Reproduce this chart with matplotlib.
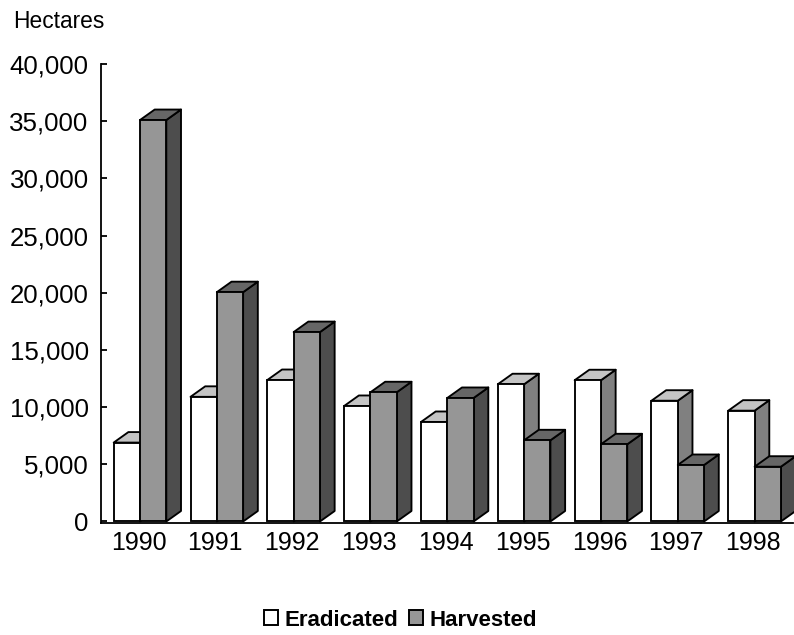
import matplotlib
matplotlib.use("Agg")
import matplotlib.pyplot as plt
from matplotlib.patches import Polygon, Patch

years = ["1990", "1991", "1992", "1993", "1994", "1995", "1996", "1997", "1998"]
eradicated = [6900, 10900, 12370, 10100, 8700, 12000, 12350, 10560, 9690]
harvested = [35100, 20050, 16560, 11300, 10800, 7100, 6750, 4940, 4790]

W, H = 794, 635
plt.rcParams["font.family"] = ["Liberation Sans", "DejaVu Sans"]
fig = plt.figure(figsize=(W / 100, H / 100), dpi=100)
ax = fig.add_axes([100.5 / W, 1 - 522.7 / H, (793 - 100.5) / W, (522.7 - 64) / H])

ax.set_xlim(-0.514, 8.50)
ax.set_ylim(-105, 40000)

bw = 26.3 / 76.8
dx = 14.7 / 76.8
dy = 918
lw = 1.35


def box(x0, v, front, top, side):
    x1 = x0 + bw
    ax.add_patch(Polygon([(x1, 0), (x1 + dx, dy), (x1 + dx, v + dy), (x1, v)],
                         facecolor=side, edgecolor="black", lw=lw, joinstyle="round", clip_on=False))
    ax.add_patch(Polygon([(x0, v), (x0 + dx, v + dy), (x1 + dx, v + dy), (x1, v)],
                         facecolor=top, edgecolor="black", lw=lw, joinstyle="round", clip_on=False))
    ax.bar(x0, v, width=bw, align="edge", color=front, edgecolor="black", linewidth=lw, clip_on=False)


for i in range(len(years)):
    box(i - bw, eradicated[i], "#ffffff", "#c4c4c4", "#808080")
    box(i, harvested[i], "#969696", "#666666", "#4d4d4d")

for s in ("top", "right"):
    ax.spines[s].set_visible(False)
for s in ("left", "bottom"):
    ax.spines[s].set_linewidth(1.3)

ax.set_yticks(range(0, 40001, 5000))
ax.set_yticklabels([f"{v:,}" for v in range(0, 40001, 5000)], fontsize=18.6)
ax.tick_params(axis="y", direction="in", length=4.5, width=1.3, pad=8.5)
ax.set_xticks([i - 0.02 for i in range(len(years))])
ax.set_xticklabels(years, fontsize=18)
ax.tick_params(axis="x", length=0, pad=6)

fig.text(13 / W, 1 - 22 / H, "Hectares", fontsize=16.4, va="center", ha="left")

handles = [Patch(facecolor="#ffffff", edgecolor="black", lw=1.4, label="Eradicated"),
           Patch(facecolor="#969696", edgecolor="black", lw=1.4, label="Harvested")]
fig.legend(handles=handles, ncol=2, frameon=False, loc="center",
           bbox_to_anchor=(400.5 / W, 1 - 620 / H),
           prop={"size": 16, "weight": "bold"},
           handlelength=0.63, handleheight=0.63, handletextpad=0.3, columnspacing=0.5,
           borderpad=0, borderaxespad=0)

fig.savefig("out.png", dpi=100)
